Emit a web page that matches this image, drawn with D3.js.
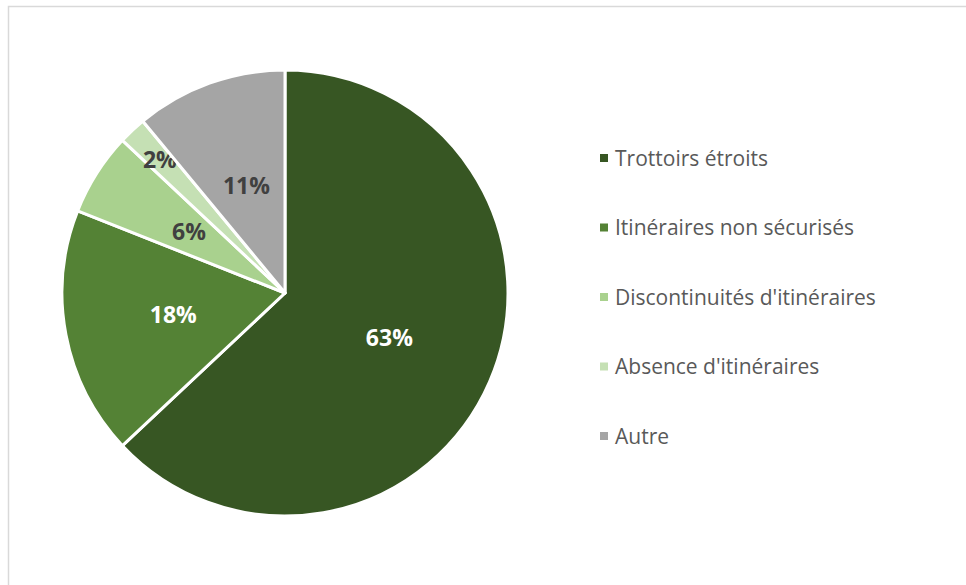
<!DOCTYPE html>
<html>
<head>
<meta charset="utf-8">
<script src="https://cdn.jsdelivr.net/npm/d3@7"></script>
<style>
  body { margin: 0; background: #fff; }
  svg { display: block; font-family: "Open Sans", "Noto Sans", sans-serif; }
</style>
</head>
<body>
<svg id="chart" width="966" height="585"></svg>
<script>
// catégories et parts (%)
var categories = ["Trottoirs étroits", "Itinéraires non sécurisés", "Discontinuités d'itinéraires", "Absence d'itinéraires", "Autre"];
var values = [63, 18, 6, 2, 11];
var colors = ["#375623", "#548235", "#a9d18e", "#c5e0b4", "#a5a5a5"];
var labelColors = ["#ffffff", "#ffffff", "#404040", "#404040", "#404040"];

var svg = d3.select("#chart"),
    width = 966,
    height = 585,
    cx = 285,
    cy = 293,
    radius = 223;

// cadre du graphique
svg.append("rect")
    .attr("x", 8.5)
    .attr("y", 6.5)
    .attr("width", 970)
    .attr("height", 600)
    .attr("fill", "none")
    .attr("stroke", "#d9d9d9")
    .attr("stroke-width", 1.5);

var data = categories.map(function (c, i) {
    return {name: c, value: values[i], color: colors[i], label: labelColors[i]};
});

var pie = d3.pie()
    .sort(null)
    .value(function (d) { return d.value; });

var arc = d3.arc().innerRadius(0).outerRadius(radius);
// position des étiquettes
var labelArc = d3.arc().innerRadius(radius * 0.51).outerRadius(radius * 0.51);
var outerLabelArc = d3.arc().innerRadius(radius * 0.82).outerRadius(radius * 0.82);

var g = svg.append("g").attr("transform", "translate(" + cx + "," + cy + ")");

var slice = g.selectAll(".slice")
    .data(pie(data))
    .enter().append("g")
    .attr("class", "slice");

slice.append("path")
    .attr("d", arc)
    .attr("fill", function (d) { return d.data.color; })
    .attr("stroke", "#ffffff")
    .attr("stroke-width", 3)
    .attr("stroke-linejoin", "round");

slice.append("text")
    .attr("transform", function (d) {
        // petites parts : étiquette poussée vers l'extérieur
        var p = d.data.value < 3 ? outerLabelArc.centroid(d) : labelArc.centroid(d);
        return "translate(" + p + ")";
    })
    .attr("text-anchor", "middle")
    .attr("dy", "0.36em")
    .attr("fill", function (d) { return d.data.label; })
    .style("font-size", "23px")
    .style("font-weight", "bold")
    .text(function (d) { return d.data.value + "%"; });

// légende
var legend = svg.append("g")
    .attr("transform", "translate(600,158)");

var item = legend.selectAll(".item")
    .data(data)
    .enter().append("g")
    .attr("class", "item")
    .attr("transform", function (d, i) { return "translate(0," + i * 69.5 + ")"; });

item.append("rect")
    .attr("x", 0)
    .attr("y", -4)
    .attr("width", 8)
    .attr("height", 8)
    .attr("fill", function (d) { return d.color; });

item.append("text")
    .attr("x", 15)
    .attr("dy", "0.36em")
    .attr("fill", "#595959")
    .style("font-size", "21px")
    .text(function (d) { return d.name; });
</script>
</body>
</html>
